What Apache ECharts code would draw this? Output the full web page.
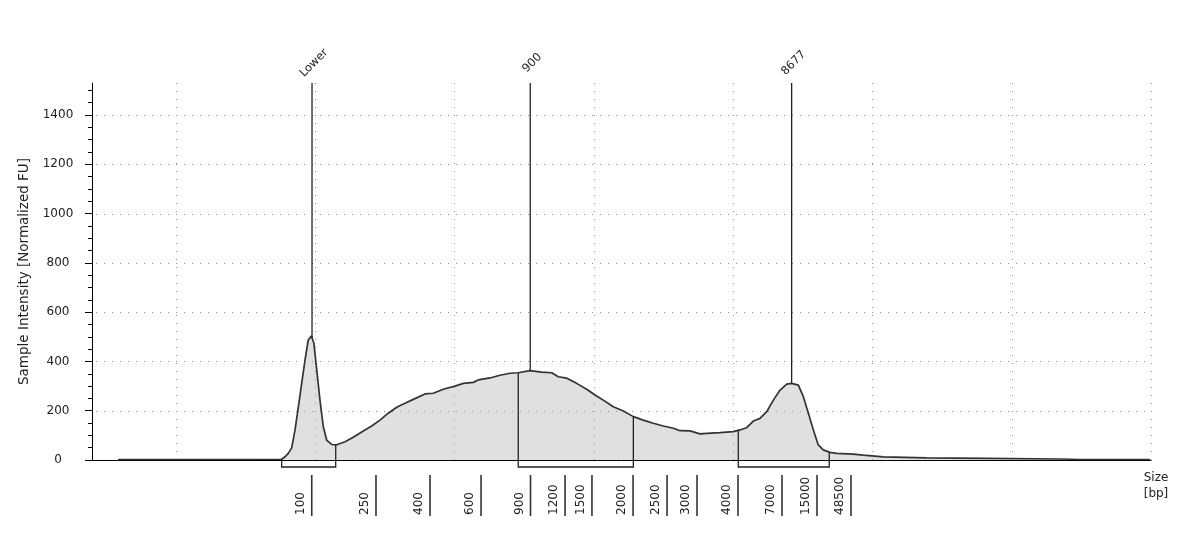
<!DOCTYPE html>
<html>
<head>
<meta charset="utf-8">
<script src="https://cdn.jsdelivr.net/npm/echarts@6/dist/echarts.min.js"></script>
<style>
html,body{margin:0;padding:0;background:#fff;}
#chart{width:1200px;height:536px;}
</style>
</head>
<body>
<div id="chart"></div>
<script>
// ---- data (x = migration position in arbitrary units, y = normalized FU) ----
const tracePos = [
  5.87, 11.75, 17.61, 17.85, 18.10, 18.33, 18.57, 18.81, 19.05, 19.29,
  19.52, 19.74, 19.92, 20.13, 20.36, 20.60, 20.84, 21.20, 21.51, 22.16,
  22.75, 23.47, 24.07, 24.67, 25.26, 25.87, 26.46, 27.06, 27.90, 28.49,
  29.21, 30.05, 30.65, 31.36, 31.72, 32.56, 33.28, 34.00, 34.59, 35.43,
  36.27, 36.99, 37.46, 38.07, 38.78, 39.50, 40.10, 40.69, 41.41, 42.13,
  42.85, 43.56, 44.28, 45.00, 45.72, 46.20, 46.92, 47.63, 48.11, 49.07,
  50.02, 50.50, 50.98, 51.46, 51.94, 52.42, 52.90, 53.38, 53.86, 54.21,
  54.69, 55.05, 55.41, 55.77, 56.12, 56.48, 56.96, 57.44, 58.63, 59.35,
  60.79, 63.90, 68.20, 73.47, 74.91, 79.93
];
const traceFU = [
  2, 2, 3, 13, 28, 49, 122, 216, 312, 406,
  487, 503, 475, 365, 243, 135, 81, 63, 61, 74,
  92, 118, 138, 162, 190, 214, 230, 246, 268, 271,
  287, 300, 311, 315, 325, 333, 344, 352, 354, 363,
  357, 354, 338, 332, 311, 287, 264, 243, 216, 199,
  176, 162, 149, 138, 129, 119, 118, 106, 108, 111,
  115, 122, 131, 158, 169, 196, 243, 284, 308, 311,
  304, 257, 190, 122, 61, 41, 31, 27, 24, 20,
  13, 9, 7, 4, 2, 2
];
const yMajorTicks = [0, 200, 400, 600, 800, 1000, 1200, 1400];
const yMinorTicks = [50, 100, 150, 250, 300, 350, 450, 500, 550, 650, 700, 750, 850, 900, 950,
  1050, 1100, 1150, 1250, 1300, 1350, 1450, 1500];
const gridLinePos = [10, 20, 30, 40, 50, 60, 70, 80];
const gridLineFU = [200, 400, 600, 800, 1000, 1200, 1400];
const ladderLabels = ['100', '250', '400', '600', '900', '1200', '1500', '2000', '2500', '3000', '4000', '7000', '15000', '48500'];
const ladderPos = [19.77, 24.38, 28.26, 31.92, 35.47, 37.95, 39.88, 42.83, 45.27, 47.42, 50.36, 53.52, 56.03, 58.47];
const peakNames = ['Lower', '900', '8677'];
const peakPos = [19.79, 35.45, 54.21];
const regionStart = [17.61, 34.59, 50.38];
const regionEnd = [21.49, 42.85, 56.91];

const X_MIN = 4, X_MAX = 80, Y_MIN = 0, Y_MAX = 1530;
const FONT = 'DejaVu Sans';
const INK = '#222';

function fuAt(p) {
  if (p <= tracePos[0]) return traceFU[0];
  for (let i = 1; i < tracePos.length; i++) {
    if (p <= tracePos[i]) {
      const t = (p - tracePos[i - 1]) / (tracePos[i] - tracePos[i - 1]);
      return traceFU[i - 1] + t * (traceFU[i] - traceFU[i - 1]);
    }
  }
  return traceFU[traceFU.length - 1];
}

const traceData = tracePos.map((p, i) => [p, traceFU[i]]);

const chart = echarts.init(document.getElementById('chart'), null, {renderer: 'canvas'});

const option = {
  animation: false,
  backgroundColor: '#fff',
  grid: {left: 92, right: 49, top: 83, bottom: 76, containLabel: false},
  xAxis: {
    type: 'value', min: X_MIN, max: X_MAX,
    axisLine: {show: true, onZero: false, lineStyle: {color: '#000', width: 1}},
    axisTick: {show: false}, axisLabel: {show: false}, splitLine: {show: false}
  },
  yAxis: [{
    type: 'value', min: Y_MIN, max: Y_MAX, interval: 200, position: 'left',
    axisLine: {show: true, lineStyle: {color: '#000', width: 1}},
    axisTick: {show: true, length: 7, lineStyle: {color: '#000'}, customValues: yMajorTicks},
    axisLabel: {customValues: yMajorTicks, margin: 34, align: 'center', fontSize: 12, fontFamily: FONT, color: INK,
      formatter: v => String(v)},
    splitLine: {show: false},
    name: 'Sample Intensity [Normalized FU]', nameLocation: 'middle', nameGap: 60, nameRotate: 90,
    nameTextStyle: {fontSize: 13.5, fontFamily: FONT, color: INK}
  }, {
    type: 'value', min: Y_MIN, max: Y_MAX, position: 'left',
    axisLine: {show: false},
    axisTick: {show: true, length: 4, lineStyle: {color: '#000'}, customValues: yMinorTicks},
    axisLabel: {show: false}, splitLine: {show: false}
  }],
  graphic: [{
    type: 'text', x: 1156, y: 470,
    style: {text: 'Size\n[bp]', align: 'center', verticalAlign: 'top', fontSize: 12, fontFamily: FONT, fill: INK, lineHeight: 16}
  }],
  series: [
    {
      name: 'area', type: 'line', data: traceData, showSymbol: false, symbol: 'none', z: 1,
      lineStyle: {width: 0, opacity: 0}, areaStyle: {color: '#e0e0e0', opacity: 1}, silent: true
    },
    {
      name: 'gridV', type: 'custom', z: 2, clip: false, silent: true,
      data: gridLinePos.map(p => [p, 0]),
      renderItem(params, api) {
        const a = api.coord([api.value(0), Y_MIN]);
        const b = api.coord([api.value(0), Y_MAX]);
        const x = Math.round(a[0]) + 0.5;
        return {type: 'line', shape: {x1: x, y1: a[1], x2: x, y2: b[1]},
          style: {stroke: '#909090', lineWidth: 1, lineDash: [1, 7]}};
      }
    },
    {
      name: 'gridH', type: 'custom', z: 2, clip: false, silent: true,
      data: gridLineFU.map(v => [X_MIN, v]),
      renderItem(params, api) {
        const a = api.coord([X_MIN, api.value(1)]);
        const b = api.coord([X_MAX, api.value(1)]);
        const y = Math.round(a[1]) + 0.5;
        return {type: 'line', shape: {x1: a[0] + 4, y1: y, x2: b[0], y2: y},
          style: {stroke: '#909090', lineWidth: 1, lineDash: [1, 7]}};
      }
    },
    {
      name: 'trace', type: 'line', data: traceData, showSymbol: false, symbol: 'none', z: 3,
      lineStyle: {color: '#333', width: 1.7}, silent: true
    },
    {
      name: 'regions', type: 'custom', z: 4, clip: false, silent: true,
      data: regionStart.map((s, i) => [s, regionEnd[i]]),
      renderItem(params, api) {
        const s = api.value(0), e = api.value(1);
        const a = api.coord([s, 0]), b = api.coord([e, 0]);
        const as = api.coord([s, fuAt(s)]), bs = api.coord([e, fuAt(e)]);
        const y0 = a[1], d = 7;
        const st = {stroke: INK, lineWidth: 1.3, fill: 'none'};
        return {type: 'group', children: [
          {type: 'polyline', shape: {points: [[a[0], y0], [a[0], y0 + d], [b[0], y0 + d], [b[0], y0]]}, style: st},
          {type: 'line', shape: {x1: a[0], y1: y0, x2: as[0], y2: as[1]}, style: st},
          {type: 'line', shape: {x1: b[0], y1: y0, x2: bs[0], y2: bs[1]}, style: st}
        ]};
      }
    },
    {
      name: 'markers', type: 'custom', z: 4, clip: false, silent: true,
      data: peakPos.map((p, i) => [p, 0, i]),
      renderItem(params, api) {
        const p = api.value(0), idx = api.value(2);
        const lo = api.coord([p, fuAt(p)]), hi = api.coord([p, Y_MAX]);
        return {type: 'group', children: [
          {type: 'line', shape: {x1: lo[0], y1: lo[1], x2: hi[0], y2: hi[1]}, style: {stroke: INK, lineWidth: 1.3}},
          {type: 'text', x: hi[0] + 2, y: hi[1] - 20, rotation: Math.PI / 4,
            style: {text: peakNames[idx], align: 'center', verticalAlign: 'middle', fontSize: 11.5, fontFamily: FONT, fill: INK}}
        ]};
      }
    },
    {
      name: 'ladder', type: 'custom', z: 4, clip: false, silent: true,
      data: ladderPos.map((p, i) => [p, 0, i]),
      renderItem(params, api) {
        const p = api.value(0), idx = api.value(2);
        const c = api.coord([p, 0]);
        const x = c[0], y0 = c[1];
        return {type: 'group', children: [
          {type: 'line', shape: {x1: x, y1: y0 + 15, x2: x, y2: y0 + 56}, style: {stroke: '#333', lineWidth: 1.6}},
          {type: 'text', x: x - 11, y: y0 + 55, rotation: Math.PI / 2,
            style: {text: ladderLabels[idx], align: 'left', verticalAlign: 'middle', fontSize: 12, fontFamily: FONT, fill: INK}}
        ]};
      }
    }
  ]
};
chart.setOption(option);
</script>
</body>
</html>
